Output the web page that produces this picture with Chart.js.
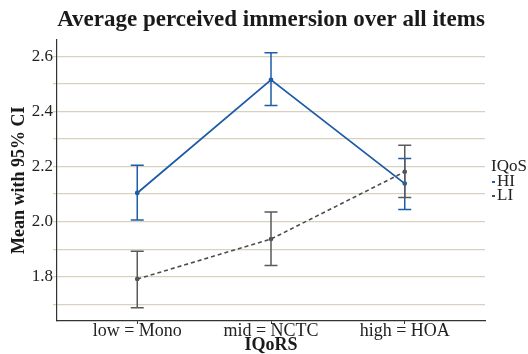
<!DOCTYPE html>
<html>
<head>
<meta charset="utf-8">
<script src="https://cdn.jsdelivr.net/npm/chart.js@4.4.0/dist/chart.umd.min.js"></script>
<style>
  html, body { margin: 0; padding: 0; background: #fff; }
  #wrap { width: 528px; height: 354px; }
</style>
</head>
<body>
<div id="wrap"><canvas id="immersionChart" width="528" height="354"></canvas></div>
<script>
// ===== DATA =====
const categories = ['low = Mono', 'mid = NCTC', 'high = HOA'];
const seriesNames = ['HI', 'LI'];
const hiMean  = [2.104, 2.514, 2.138];
const hiLower = [2.006, 2.421, 2.044];
const hiUpper = [2.205, 2.612, 2.229];
const liMean  = [1.792, 1.937, 2.181];
const liLower = [1.688, 1.841, 2.088];
const liUpper = [1.893, 2.035, 2.277];
const yTicks = [1.7, 1.8, 1.9, 2.0, 2.1, 2.2, 2.3, 2.4, 2.5, 2.6];

const SERIF = "'Liberation Serif', 'Times New Roman', serif";
const BLUE = '#1f5ca8';
const GREY = '#4d4d4d';
const GRID = '#d8d1bd';

// ===== ERROR BARS =====
const errorBars = {
    id: 'errorBars',
    afterDatasetsDraw(chart) {
        const ctx = chart.ctx;
        const xs = chart.scales.x, ys = chart.scales.y;
        chart.data.datasets.forEach(function(ds){
            ctx.save();
            ctx.strokeStyle = ds.barColor;
            ctx.lineWidth = 1.5;
            ds.lower.forEach(function(lo, i){
                const x = xs.getPixelForValue(i);
                const y1 = ys.getPixelForValue(lo);
                const y2 = ys.getPixelForValue(ds.upper[i]);
                ctx.beginPath();
                ctx.moveTo(x, y1); ctx.lineTo(x, y2);
                ctx.moveTo(x - 6.5, y1); ctx.lineTo(x + 6.5, y1);
                ctx.moveTo(x - 6.5, y2); ctx.lineTo(x + 6.5, y2);
                ctx.stroke();
            });
            ctx.restore();
        });
    }
};

// ===== LEGEND (right side) =====
const sideLegend = {
    id: 'sideLegend',
    afterDraw(chart) {
        const ctx = chart.ctx;
        const x0 = chart.chartArea.right + 6;
        ctx.save();
        ctx.font = '17px ' + SERIF;
        ctx.fillStyle = '#222';
        ctx.textBaseline = 'middle';
        ctx.textAlign = 'left';
        ctx.fillText('IQoS', x0, 167);
        chart.data.datasets.forEach(function(ds, i){
            const y = 182 + i * 14;
            ctx.strokeStyle = ds.borderColor;
            ctx.lineWidth = 2;
            ctx.beginPath();
            ctx.moveTo(x0 + 1, y); ctx.lineTo(x0 + 4, y);
            ctx.stroke();
            ctx.fillStyle = '#222';
            ctx.fillText(ds.label, x0 + 6, y);
        });
        ctx.restore();
    }
};

const ctx = document.getElementById('immersionChart').getContext('2d');

new Chart(ctx, {
    type: 'line',
    data: {
        datasets: [{
            label: seriesNames[0],
            data: hiMean.map(function(v, i){ return {x: i, y: v}; }),
            lower: hiLower,
            upper: hiUpper,
            barColor: BLUE,
            borderColor: BLUE,
            backgroundColor: BLUE,
            borderWidth: 1.8,
            pointRadius: 1.5,
            tension: 0
        }, {
            label: seriesNames[1],
            data: liMean.map(function(v, i){ return {x: i, y: v}; }),
            lower: liLower,
            upper: liUpper,
            barColor: '#5a5a5a',
            borderColor: GREY,
            backgroundColor: GREY,
            borderWidth: 1.6,
            borderDash: [4, 3],
            pointRadius: 1.5,
            tension: 0
        }]
    },
    options: {
        responsive: false,
        animation: false,
        layout: { padding: { right: 43, left: 0, top: 0, bottom: 0 } },
        plugins: {
            legend: { display: false },
            tooltip: { enabled: false },
            title: {
                display: true,
                fullSize: false,
                text: 'Average perceived immersion over all items',
                color: '#1a1a1a',
                font: { family: SERIF, size: 23, weight: 'bold' },
                padding: { top: 6, bottom: 6 }
            }
        },
        scales: {
            x: {
                type: 'linear',
                min: -0.6,
                max: 2.6,
                afterBuildTicks: function(s){ s.ticks = categories.map(function(c, i){ return {value: i}; }); },
                afterFit: function(s){ s.height = 33; },
                ticks: {
                    color: '#222',
                    font: { family: SERIF, size: 18, lineHeight: 1 },
                    padding: -2,
                    callback: function(v){ return categories[v]; }
                },
                grid: { display: true, drawOnChartArea: false, color: '#333', tickLength: 3 },
                border: { color: '#333', width: 1.2 },
                title: {
                    display: true,
                    text: 'IQoRS',
                    color: '#1a1a1a',
                    font: { family: SERIF, size: 18, weight: 'bold', lineHeight: 1 },
                    padding: { top: 0, bottom: 0 }
                }
            },
            y: {
                min: 1.64,
                max: 2.66,
                afterBuildTicks: function(s){ s.ticks = yTicks.map(function(v){ return {value: v}; }); },
                afterFit: function(s){ s.width = 57; },
                ticks: {
                    color: '#222',
                    font: { family: SERIF, size: 17 },
                    padding: 0,
                    callback: function(v){
                        return Math.round(v * 10) % 2 === 0 ? v.toFixed(1) : '';
                    }
                },
                grid: { color: GRID, lineWidth: 1.3, tickLength: 4 },
                border: { color: '#333', width: 1.2 },
                title: {
                    display: true,
                    text: 'Mean with 95% CI',
                    color: '#1a1a1a',
                    font: { family: SERIF, size: 18, weight: 'bold', lineHeight: 1 },
                    padding: { top: 10, bottom: 0 }
                }
            }
        }
    },
    plugins: [errorBars, sideLegend]
});
</script>
</body>
</html>
